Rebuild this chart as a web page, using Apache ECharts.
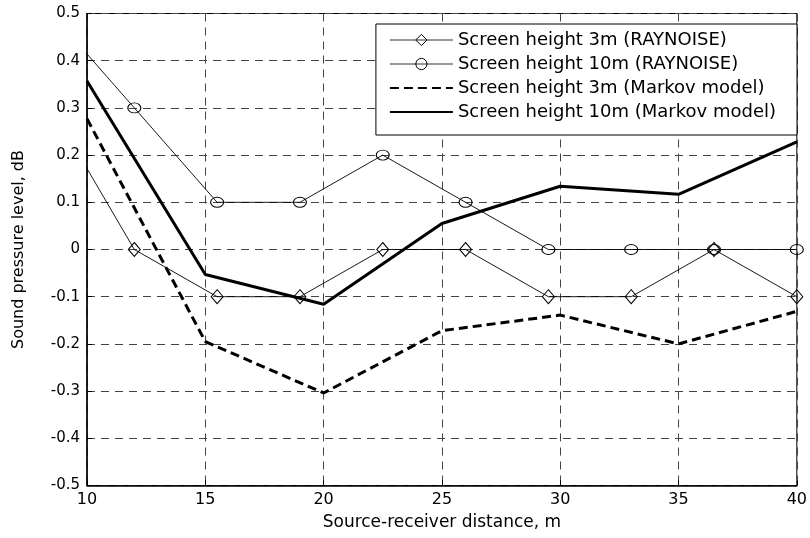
<!DOCTYPE html>
<html>
<head>
<meta charset="utf-8">
<script src="https://cdn.jsdelivr.net/npm/echarts@6/dist/echarts.min.js"></script>
<style>html,body{margin:0;padding:0;background:#fff;}#c{width:810px;height:538px;}</style>
</head>
<body>
<div id="c"></div>
<script>
// RAYNOISE sample positions (first one lies left of the visible axis range)
const rayX = [8.5, 12, 15.5, 19, 22.5, 26, 29.5, 33, 36.5, 40];
const ray3m = [0.3, 0, -0.1, -0.1, 0, 0, -0.1, -0.1, 0, -0.1];
const ray10m = [0.5, 0.3, 0.1, 0.1, 0.2, 0.1, 0, 0, 0, 0];
// Markov model positions
const markovX = [10, 15, 20, 25, 30, 35, 40];
const markov3m = [0.277, -0.195, -0.304, -0.172, -0.139, -0.2, -0.131];
const markov10m = [0.357, -0.053, -0.116, 0.055, 0.134, 0.117, 0.228];
const seriesNames = [
  'Screen height 3m (RAYNOISE)',
  'Screen height 10m (RAYNOISE)',
  'Screen height 3m (Markov model)',
  'Screen height 10m (Markov model)'
];
const xTicks = [10, 15, 20, 25, 30, 35, 40];
const yTicks = ['-0.5', '-0.4', '-0.3', '-0.2', '-0.1', '0', '0.1', '0.2', '0.3', '0.4', '0.5'];

const pairs = (xs, ys) => xs.map((x, i) => [x, ys[i]]);
const FONT = 'DejaVu Sans';

const hollow = {color: 'rgba(255,255,255,0)', borderColor: '#000', borderWidth: 1};

const chart = echarts.init(document.getElementById('c'), null, {renderer: 'canvas'});
chart.setOption({
  backgroundColor: '#fff',
  animation: false,
  textStyle: {fontFamily: FONT, color: '#000'},
  grid: {left: 87, right: 13, top: 13.5, bottom: 52.5, show: true, borderColor: '#000', borderWidth: 1, backgroundColor: 'transparent'},
  legend: {
    orient: 'vertical',
    right: 13,
    top: 24,
    backgroundColor: '#fff',
    borderColor: '#000',
    borderWidth: 1,
    padding: [6, 21, 13, 13],
    itemWidth: 63,
    itemHeight: 14,
    itemGap: 4,
    textStyle: {fontFamily: FONT, fontSize: 18, color: '#000', lineHeight: 20},
    data: [
      {name: seriesNames[0], lineStyle: {width: 1, color: '#333'}, itemStyle: hollow},
      {name: seriesNames[1], lineStyle: {width: 1, color: '#333'}, itemStyle: hollow},
      {name: seriesNames[2], itemStyle: {opacity: 0}},
      {name: seriesNames[3], itemStyle: {opacity: 0}}
    ]
  },
  xAxis: {
    type: 'value',
    min: 10, max: 40, interval: 5,
    name: 'Source-receiver distance, m',
    nameLocation: 'middle',
    nameGap: 29,
    nameTextStyle: {fontFamily: FONT, fontSize: 17, color: '#000'},
    axisLine: {onZero: false, lineStyle: {color: '#000', width: 1.5}},
    axisTick: {inside: true, length: 5, lineStyle: {color: '#000'}},
    axisLabel: {fontFamily: FONT, fontSize: 16, color: '#000', margin: 6,
      formatter: v => { const i = xTicks.indexOf(v); return i >= 0 ? String(xTicks[i]) : ''; }},
    splitLine: {show: true, lineStyle: {color: '#444', width: 1, type: [8, 6]}}
  },
  yAxis: {
    type: 'value',
    min: -0.5, max: 0.5, interval: 0.1,
    name: 'Sound pressure level, dB',
    nameLocation: 'middle',
    nameGap: 60,
    nameTextStyle: {fontFamily: FONT, fontSize: 16, color: '#000'},
    axisLine: {show: true, onZero: false, lineStyle: {color: '#000', width: 1.5}},
    axisTick: {show: true, inside: true, length: 5, lineStyle: {color: '#000'}},
    axisLabel: {fontFamily: FONT, fontSize: 15, color: '#000', margin: 7,
      formatter: v => { const i = Math.round((v + 0.5) * 10); return yTicks[i] !== undefined ? yTicks[i] : ''; }},
    splitLine: {show: true, lineStyle: {color: '#444', width: 1, type: [8, 6]}}
  },
  series: [
    {
      name: seriesNames[0], type: 'line', data: pairs(rayX, ray3m),
      symbol: 'diamond', symbolSize: [12, 14], showSymbol: true, clip: true,
      lineStyle: {color: '#000', width: 0.9},
      itemStyle: hollow,
      z: 3
    },
    {
      name: seriesNames[1], type: 'line', data: pairs(rayX, ray10m),
      symbol: 'circle', symbolSize: [13, 10], showSymbol: true, clip: true,
      lineStyle: {color: '#000', width: 0.9},
      itemStyle: hollow,
      z: 3
    },
    {
      name: seriesNames[2], type: 'line', data: pairs(markovX, markov3m),
      symbol: 'none', clip: true,
      lineStyle: {color: '#000', width: 3, type: [9, 5]},
      itemStyle: {color: '#000'},
      z: 4
    },
    {
      name: seriesNames[3], type: 'line', data: pairs(markovX, markov10m),
      symbol: 'none', clip: true,
      lineStyle: {color: '#000', width: 3},
      itemStyle: {color: '#000'},
      z: 4
    }
  ]
});
</script>
</body>
</html>
